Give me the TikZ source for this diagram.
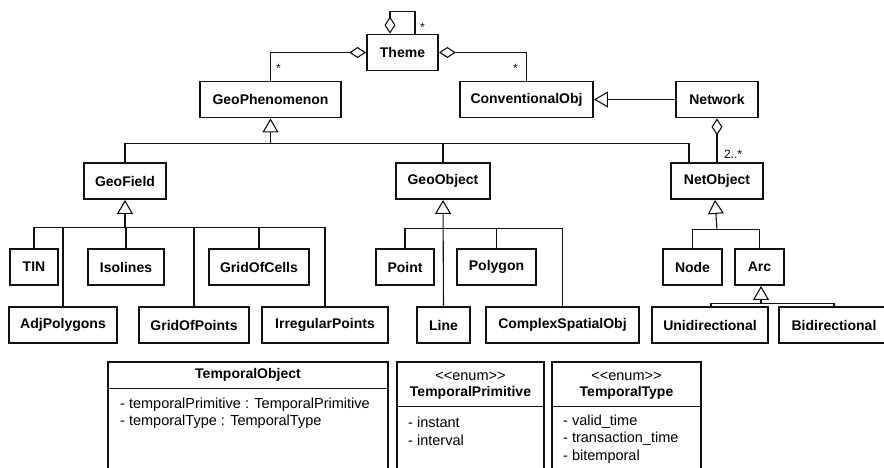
\documentclass[tikz,border=0pt]{standalone}
\usepackage{fontspec}
\setmainfont{Liberation Sans}
\usetikzlibrary{calc,arrows.meta}
\definecolor{UmlLine}{HTML}{111111}
\newcommand{\stereo}[1]{<\kern0pt<#1>\kern0pt>}

\begin{document}
\begin{tikzpicture}[x=1pt,y=-1pt,
    cls/.style={draw=UmlLine, line width=1.8pt, font=\fontsize{14}{16}\selectfont\bfseries,
      minimum height=36pt, inner sep=0pt},
    umlbox/.style={draw=UmlLine, line width=1.8pt, inner sep=0pt},
    conn/.style={draw=UmlLine, line width=1.1pt},
    gen/.style={conn, -{Triangle[open,length=14pt,width=16pt]}},
    agg/.style={conn, -{Diamond[open,length=17pt,width=11pt]}},
    mult/.style={font=\fontsize{12}{14}\selectfont, inner sep=0pt},
    attr/.style={font=\fontsize{14.5}{17}\selectfont, anchor=west, inner sep=0pt},
    title/.style={font=\fontsize{14}{17}\selectfont\bfseries, inner sep=0pt}]
  \useasboundingbox (0,0) rectangle (884,468);
  \clip (0,0) rectangle (884,468);

  % top level
  \node[cls, minimum width=71pt]  (Theme)          at (402.5,52.5) {Theme};
  \node[cls, minimum width=141pt] (GeoPhenomenon)  at (270.5,99.5) {GeoPhenomenon};
  \node[cls, minimum width=133pt] (ConventionalObj) at (526.5,99.5) {ConventionalObj};
  \node[cls, minimum width=82pt]  (Network)        at (717,99.5)   {Network};

  % second level
  \node[cls, minimum width=82pt] (GeoField)  at (125,181) {GeoField};
  \node[cls, minimum width=94pt] (GeoObject) at (443,181) {GeoObject};
  \node[cls, minimum width=92pt] (NetObject) at (717,181) {NetObject};

  % leaves, upper row
  \node[cls, minimum width=48pt]  (TIN)         at (34,267)    {TIN};
  \node[cls, minimum width=76pt]  (Isolines)    at (126,267)   {Isolines};
  \node[cls, minimum width=100pt] (GridOfCells) at (259,267)   {GridOfCells};
  \node[cls, minimum width=58pt]  (Point)       at (405,267)   {Point};
  \node[cls, minimum width=79pt]  (Polygon)     at (496.5,267) {Polygon};
  \node[cls, minimum width=59pt]  (NodeCls)     at (692.5,267) {Node};
  \node[cls, minimum width=49pt]  (Arc)         at (759.5,267) {Arc};

  % leaves, lower row
  \node[cls, minimum width=108pt] (AdjPolygons)       at (63,325)    {AdjPolygons};
  \node[cls, minimum width=110pt] (GridOfPoints)      at (194,325)   {GridOfPoints};
  \node[cls, minimum width=126pt] (IrregularPoints)   at (325,325)   {IrregularPoints};
  \node[cls, minimum width=53pt]  (LineCls)           at (443.5,325) {Line};
  \node[cls, minimum width=153pt] (ComplexSpatialObj) at (562.5,325) {ComplexSpatialObj};
  \node[cls, minimum width=116pt] (Unidirectional)    at (710,325)   {Unidirectional};
  \node[cls, minimum width=110pt] (Bidirectional)     at (834,325)   {Bidirectional};

  % aggregations
  \draw[agg] ([xshift=12.5pt]Theme.north) -- ++(0,-22) -| ([xshift=-12.5pt]Theme.north);
  \draw[agg] (GeoPhenomenon.north) |- (Theme.west);
  \draw[agg] (ConventionalObj.north) |- (Theme.east);
  \draw[agg] (NetObject.north) -- (Network.south);
  \node[mult] (mLoop) at ($(Theme.north)+(20,-6)$) {*};
  \node[mult] (mPhen) at ($(GeoPhenomenon.north)+(8,-12)$) {*};
  \node[mult] (mConv) at ($(ConventionalObj.north)+(-11,-12)$) {*};
  \node[mult] (mNet)  at ($(NetObject.north)+(16,-8)$) {2..*};

  % generalizations
  \draw[gen] (Network.west) -- (ConventionalObj.east);

  \coordinate (phenbus) at ($(GeoPhenomenon.south)+(0,25)$);
  \coordinate (netin) at ([xshift=-28pt]NetObject.north);
  \draw[gen] (phenbus) -- (GeoPhenomenon.south);
  \draw[conn] (GeoField.north) |- (netin |- phenbus) -- (netin);
  \draw[conn] (GeoObject.north) -- (GeoObject.north |- phenbus);

  \coordinate (fieldbus) at ($(GeoField.south)+(0,28)$);
  \draw[gen] (fieldbus) -- (GeoField.south);
  \draw[conn] (TIN.north) |- (IrregularPoints.north |- fieldbus) -- (IrregularPoints.north);
  \foreach \c in {AdjPolygons,Isolines,GridOfPoints,GridOfCells}
    \draw[conn] (\c.north) -- (\c.north |- fieldbus);

  \coordinate (objbus) at ($(GeoObject.south)+(0,29)$);
  \draw[gen] (LineCls.north) -- (GeoObject.south);
  \draw[conn] (Point.north) |- (ComplexSpatialObj.north |- objbus) -- (ComplexSpatialObj.north);
  \draw[conn] (Polygon.north) -- (Polygon.north |- objbus);

  \coordinate (netbus) at ($(NetObject.south)+(0,30)$);
  \draw[gen] (netbus -| NetObject.south) -- ([xshift=-2pt]NetObject.south);
  \draw[conn] (NodeCls.north) |- (netbus -| Arc.north) -- (Arc.north);

  \coordinate (arcbus) at ($(Arc.south)+(0,18)$);
  \draw[gen] ([xshift=1.5pt]arcbus) -- ([xshift=1.5pt]Arc.south);
  \draw[conn] ([xshift=1pt]Unidirectional.north) |- (Bidirectional.north |- arcbus) -- (Bidirectional.north);

  % temporal classes
  \node[umlbox, minimum width=280pt, minimum height=120pt] (TemporalObject) at (248,422) {};
  \draw[conn] ($(TemporalObject.north west)+(0,27)$) -- ($(TemporalObject.north east)+(0,27)$);
  \node[title] (toName) at ($(TemporalObject.north)+(0,14)$) {TemporalObject};
  \node[attr] (toA1) at (120,405) {- temporalPrimitive : TemporalPrimitive};
  \node[attr] (toA2) at (120,422) {- temporalType : TemporalType};

  \node[umlbox, minimum width=147pt, minimum height=120pt] (TemporalPrimitive) at (470.5,422) {};
  \draw[conn] ($(TemporalPrimitive.north west)+(0,45)$) -- ($(TemporalPrimitive.north east)+(0,45)$);
  \node[attr, anchor=center] (tpStereo) at ($(TemporalPrimitive.north)+(0,15)$) {\stereo{enum}};
  \node[title] (tpName) at ($(TemporalPrimitive.north)+(0,32)$) {TemporalPrimitive};
  \node[attr] (tpA1) at (408,422) {- instant};
  \node[attr] (tpA2) at (408,440) {- interval};

  \node[umlbox, minimum width=149pt, minimum height=120pt] (TemporalType) at (626.5,422) {};
  \draw[conn] ($(TemporalType.north west)+(0,45)$) -- ($(TemporalType.north east)+(0,45)$);
  \node[attr, anchor=center] (ttStereo) at ($(TemporalType.north)+(0,15)$) {\stereo{enum}};
  \node[title] (ttName) at ($(TemporalType.north)+(0,32)$) {TemporalType};
  \node[attr] (ttA1) at (563,422) {- valid\_time};
  \node[attr] (ttA2) at (563,439) {- transaction\_time};
  \node[attr] (ttA3) at (563,457) {- bitemporal};
\end{tikzpicture}
\end{document}
